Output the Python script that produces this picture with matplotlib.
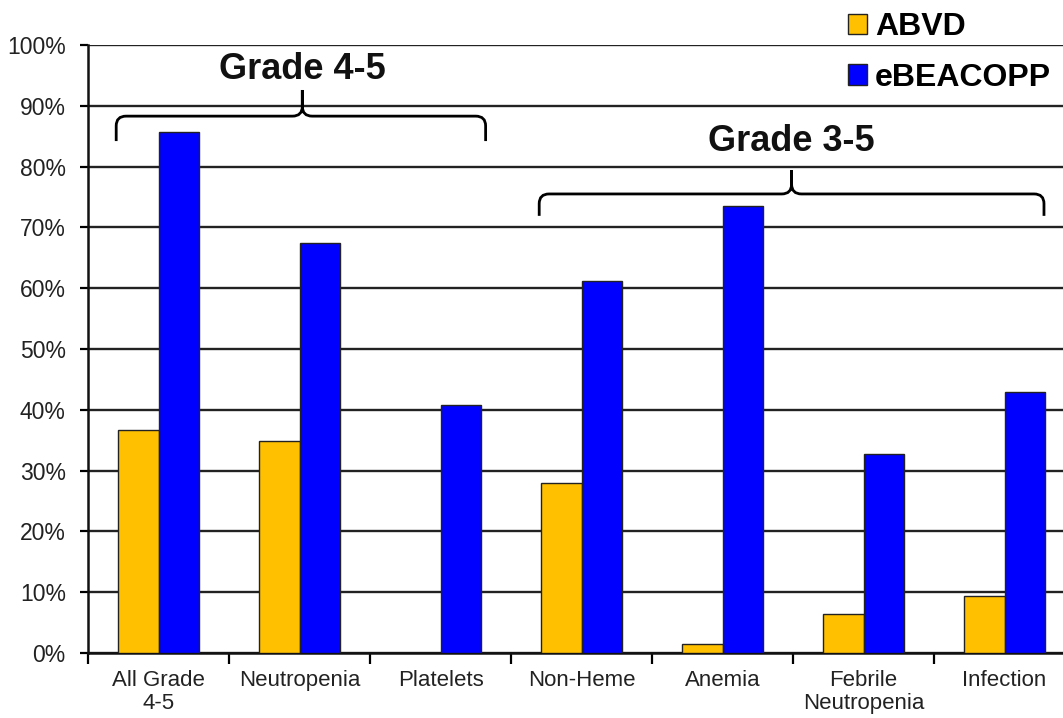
import matplotlib
matplotlib.use("Agg")
import matplotlib.pyplot as plt
import numpy as np
from matplotlib.path import Path
from matplotlib.patches import PathPatch

plt.rcParams["font.family"] = ["Liberation Sans", "DejaVu Sans"]

CATEGORIES = ["All Grade\n4-5", "Neutropenia", "Platelets", "Non-Heme",
              "Anemia", "Febrile\nNeutropenia", "Infection"]
ABVD = [36.7, 34.8, 0.0, 27.9, 1.5, 6.4, 9.3]
EBEACOPP = [85.7, 67.4, 40.8, 61.2, 73.6, 32.7, 43.0]
SERIES_LABELS = ["ABVD", "eBEACOPP"]
SERIES_COLORS = ["#FFC000", "#0000FF"]
Y_TICKS = list(range(0, 101, 10))

# brace annotations: (label, left, right, centre, bottom, bar, tip, text_y)
BRACES = [
    ("Grade 4-5", -0.30, 2.32, 1.02, 84.2, 88.3, 92.6, 95.9),
    ("Grade 3-5", 2.70, 6.28, 4.49, 71.9, 75.5, 79.4, 84.2),
]


def draw_brace(ax, x0, x1, xc, yb, yh, yt, rx=0.07, ry=1.6):
    verts = [
        (x0, yb), (x0, yh - ry), (x0, yh), (x0 + rx, yh),
        (xc - rx, yh), (xc, yh), (xc, yh + ry), (xc, yt),
        (xc, yh + ry), (xc, yh), (xc + rx, yh),
        (x1 - rx, yh), (x1, yh), (x1, yh - ry), (x1, yb),
    ]
    codes = [
        Path.MOVETO, Path.LINETO, Path.CURVE3, Path.CURVE3,
        Path.LINETO, Path.CURVE3, Path.CURVE3, Path.LINETO,
        Path.LINETO, Path.CURVE3, Path.CURVE3,
        Path.LINETO, Path.CURVE3, Path.CURVE3, Path.LINETO,
    ]
    patch = PathPatch(Path(verts, codes), facecolor="none", edgecolor="black",
                      linewidth=2.0, clip_on=False, zorder=4)
    ax.add_patch(patch)


fig = plt.figure(figsize=(10.63, 7.18), dpi=100)
fig.patch.set_facecolor("white")
ax = fig.add_axes([88 / 1063, 1 - 653 / 718, 987 / 1063, 608 / 718])

x = np.arange(len(CATEGORIES))
width = 0.285
for i, (vals, label, color) in enumerate(zip([ABVD, EBEACOPP], SERIES_LABELS, SERIES_COLORS)):
    ax.bar(x + (i - 0.5) * width, vals, width=width, color=color, edgecolor="#222222",
           linewidth=1.0, label=label, zorder=3)

ax.set_xlim(-0.5, len(CATEGORIES) - 0.5)
ax.set_ylim(0, 100)
ax.set_yticks(Y_TICKS)
ax.set_yticklabels([f"{t}%" for t in Y_TICKS], fontsize=16.5, color="#222222")
ax.yaxis.grid(True, color="#222222", linewidth=1.7)
ax.set_axisbelow(True)

ax.set_xticks(x)
ax.set_xticklabels(CATEGORIES, fontsize=16, color="#222222", linespacing=1.12)
ax.set_xticks(np.arange(len(CATEGORIES) + 1) - 0.5, minor=True)
ax.tick_params(axis="x", which="major", length=0, pad=12)
ax.tick_params(axis="x", which="minor", length=8, width=1.6, direction="out")
ax.tick_params(axis="y", length=6, width=1.6, pad=10, direction="out")

for side in ("top", "right"):
    ax.spines[side].set_visible(False)
for side in ("left", "bottom"):
    ax.spines[side].set_linewidth(1.8)
    ax.spines[side].set_color("#111111")

for label, x0, x1, xc, yb, yh, yt, ty in BRACES:
    draw_brace(ax, x0, x1, xc, yb, yh, yt)
    ax.text(xc, ty, label, ha="center", va="center", fontsize=26, fontweight="bold",
            color="#111111", clip_on=False)

ax.legend(loc="upper left", bbox_to_anchor=(848 / 1063, 1 - 12 / 718),
          bbox_transform=fig.transFigure, frameon=False,
          prop={"weight": "bold", "size": 23}, handlelength=0.6, handleheight=0.6,
          handletextpad=0.25, labelspacing=0.65, borderpad=0, borderaxespad=0)

fig.savefig("out.png", dpi=100, facecolor="white")
